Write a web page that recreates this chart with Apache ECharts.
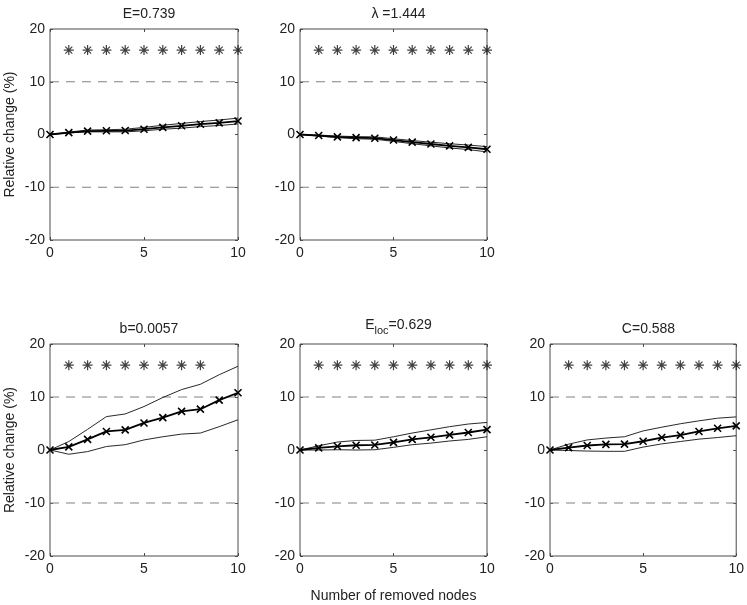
<!DOCTYPE html>
<html><head><meta charset="utf-8">
<script src="https://cdn.jsdelivr.net/npm/echarts@6/dist/echarts.min.js"></script>
<style>html,body{margin:0;padding:0;background:#fff}#c{width:747px;height:605px}</style>
</head><body><div id="c"></div>
<script>
// ---- data ----
const removedNodes = [0,1,2,3,4,5,6,7,8,9,10];

const eMean  = [0,0.35,0.65,0.7,0.75,1.0,1.35,1.65,1.95,2.2,2.55];
const eUpper = [0,0.45,0.85,0.9,1.0,1.35,1.75,2.1,2.45,2.75,3.1];
const eLower = [0,0.3,0.5,0.5,0.5,0.7,1.0,1.2,1.5,1.7,2.0];

const lamMean  = [0,-0.2,-0.45,-0.6,-0.7,-1.05,-1.45,-1.8,-2.15,-2.45,-2.8];
const lamUpper = [0,-0.1,-0.3,-0.4,-0.45,-0.8,-1.15,-1.45,-1.75,-2.0,-2.3];
const lamLower = [0,-0.3,-0.6,-0.8,-0.9,-1.3,-1.75,-2.15,-2.55,-2.85,-3.3];

const bMean  = [0,0.6,2.0,3.5,3.8,5.1,6.1,7.3,7.7,9.4,10.8];
const bUpper = [0,1.6,3.9,6.3,6.8,8.2,9.9,11.4,12.4,14.2,15.8];
const bLower = [0,-0.8,-0.3,0.66,1.0,1.9,2.5,3.0,3.2,4.4,5.7];

const elocMean  = [0,0.4,0.7,0.9,0.95,1.45,2.0,2.4,2.85,3.3,3.85];
const elocUpper = [0,0.8,1.5,1.8,1.85,2.5,3.2,3.8,4.4,4.9,5.2];
const elocLower = [0,0.0,0.05,0.0,0.05,0.5,1.0,1.3,1.7,2.0,2.5];

const cMean  = [0,0.45,0.85,1.05,1.1,1.65,2.35,2.8,3.5,4.1,4.55];
const cUpper = [0,1.1,1.9,2.25,2.5,3.6,4.3,4.95,5.5,6.0,6.25];
const cLower = [0,-0.1,-0.2,-0.25,-0.25,0.55,1.15,1.6,2.05,2.35,2.7];

// significance markers (asterisks) at level 16
const starLevel = 16;
const eStars    = [1,2,3,4,5,6,7,8,9,10];
const lamStars  = [1,2,3,4,5,6,7,8,9,10];
const bStars    = [1,2,3,4,5,6,7,8];
const elocStars = [1,2,3,4,5,6,7,8,9,10];
const cStars    = [1,2,3,4,5,6,7,8,9,10];

const dashedLevels = [10, -10];
const titles = ['E=0.739', 'λ =1.444', 'b=0.0057', 'E{sub|loc}=0.629', 'C=0.588'];
const yTickLabels = [-20, -10, 0, 10, 20];
const xTickLabels = [0, 5, 10];
const yAxisTitle = 'Relative change (%)';
const xAxisTitle = 'Number of removed nodes';

// ---- layout ----
const panels = [
  {mean:eMean, up:eUpper, lo:eLower, stars:eStars, rect:[50,29,188,211], ylab:true, tOff:27},
  {mean:lamMean, up:lamUpper, lo:lamLower, stars:lamStars, rect:[300,29,187,211], ylab:false, tOff:27},
  {mean:bMean, up:bUpper, lo:bLower, stars:bStars, rect:[50,344,188,212], ylab:true, tOff:27},
  {mean:elocMean, up:elocUpper, lo:elocLower, stars:elocStars, rect:[300,344,187,212], ylab:false, xlab:true, tOff:34},
  {mean:cMean, up:cUpper, lo:cLower, stars:cStars, rect:[550,344,187,212], ylab:false, tOff:27}
];

const FONT = 'Liberation Sans, Arial, Helvetica, sans-serif';
const AX = '#4a4a4a';
const starPath = 'path://M0,-1L0,1M-1,0L1,0M-0.7,-0.7L0.7,0.7M-0.7,0.7L0.7,-0.7';
const xPath = 'path://M-1,-1L1,1M-1,1L1,-1';

const grid = [], xAxis = [], yAxis = [], series = [], title = [];
const xMin = removedNodes[0], xMax = removedNodes[removedNodes.length-1];
const yMin = yTickLabels[0], yMax = yTickLabels[yTickLabels.length-1];

panels.forEach((p, i) => {
  const [l,t,w,h] = p.rect;
  grid.push({left:l, top:t, width:w, height:h, show:true, borderColor:AX, borderWidth:1, backgroundColor:'#fff'});
  const xb = xAxis.length;
  xAxis.push({type:'value', gridIndex:i, min:xMin, max:xMax, interval:5, position:'bottom',
    axisLine:{show:false, onZero:false}, splitLine:{show:false},
    axisTick:{inside:true, length:3, lineStyle:{color:AX}},
    axisLabel:{color:'#222', fontSize:14, fontFamily:FONT, margin:6},
    name: p.xlab ? xAxisTitle : '', nameLocation:'middle', nameGap:33,
    nameTextStyle:{color:'#222', fontSize:14, fontFamily:FONT}});
  xAxis.push({type:'value', gridIndex:i, min:xMin, max:xMax, interval:5, position:'top',
    axisLine:{show:false, onZero:false}, splitLine:{show:false},
    axisTick:{inside:true, length:3, lineStyle:{color:AX}}, axisLabel:{show:false}});
  const yb = yAxis.length;
  yAxis.push({type:'value', gridIndex:i, min:yMin, max:yMax, interval:10, position:'left',
    axisLine:{show:false, onZero:false}, splitLine:{show:false},
    axisTick:{inside:true, length:3, lineStyle:{color:AX}},
    axisLabel:{color:'#222', fontSize:14, fontFamily:FONT, margin:5},
    name: p.ylab ? yAxisTitle : '', nameLocation:'middle', nameGap:33, nameRotate:90,
    nameTextStyle:{color:'#222', fontSize:14, fontFamily:FONT}});
  yAxis.push({type:'value', gridIndex:i, min:yMin, max:yMax, interval:10, position:'right',
    axisLine:{show:false, onZero:false}, splitLine:{show:false},
    axisTick:{inside:true, length:3, lineStyle:{color:AX}}, axisLabel:{show:false}});

  dashedLevels.forEach(v => {
    series.push({type:'line', xAxisIndex:xb, yAxisIndex:yb, silent:true, symbol:'none',
      data:[[xMin,v],[xMax,v]], lineStyle:{color:'#808080', width:1, type:[9,7]}});
  });
  const mk = arr => removedNodes.map((x,k)=>[x,arr[k]]);
  series.push({type:'line', xAxisIndex:xb, yAxisIndex:yb, silent:true, symbol:'none',
    data:mk(p.up), lineStyle:{color:'#111', width:0.9}});
  series.push({type:'line', xAxisIndex:xb, yAxisIndex:yb, silent:true, symbol:'none',
    data:mk(p.lo), lineStyle:{color:'#111', width:0.9}});
  series.push({type:'line', xAxisIndex:xb, yAxisIndex:yb, silent:true,
    data:mk(p.mean), lineStyle:{color:'#000', width:1.8},
    symbol:xPath, symbolSize:7, showSymbol:true,
    itemStyle:{color:'none', borderColor:'#000', borderWidth:1.6}});
  series.push({type:'scatter', xAxisIndex:xb, yAxisIndex:yb, silent:true,
    data:p.stars.map(x=>[x,starLevel]), symbol:starPath, symbolSize:10,
    itemStyle:{color:'none', borderColor:'#111', borderWidth:1.2}});

  title.push({text:titles[i], left:l + w/2, top: t - p.tOff, textAlign:'center',
    textStyle:{fontSize:14, fontWeight:'normal', color:'#222', fontFamily:FONT,
      rich:{sub:{fontSize:11, fontFamily:FONT, color:'#222', padding:[10,0,0,0]}}}});
});

const chart = echarts.init(document.getElementById('c'), null, {renderer:'canvas'});
chart.setOption({animation:false, backgroundColor:'#fff', title, grid, xAxis, yAxis, series});
</script></body></html>
